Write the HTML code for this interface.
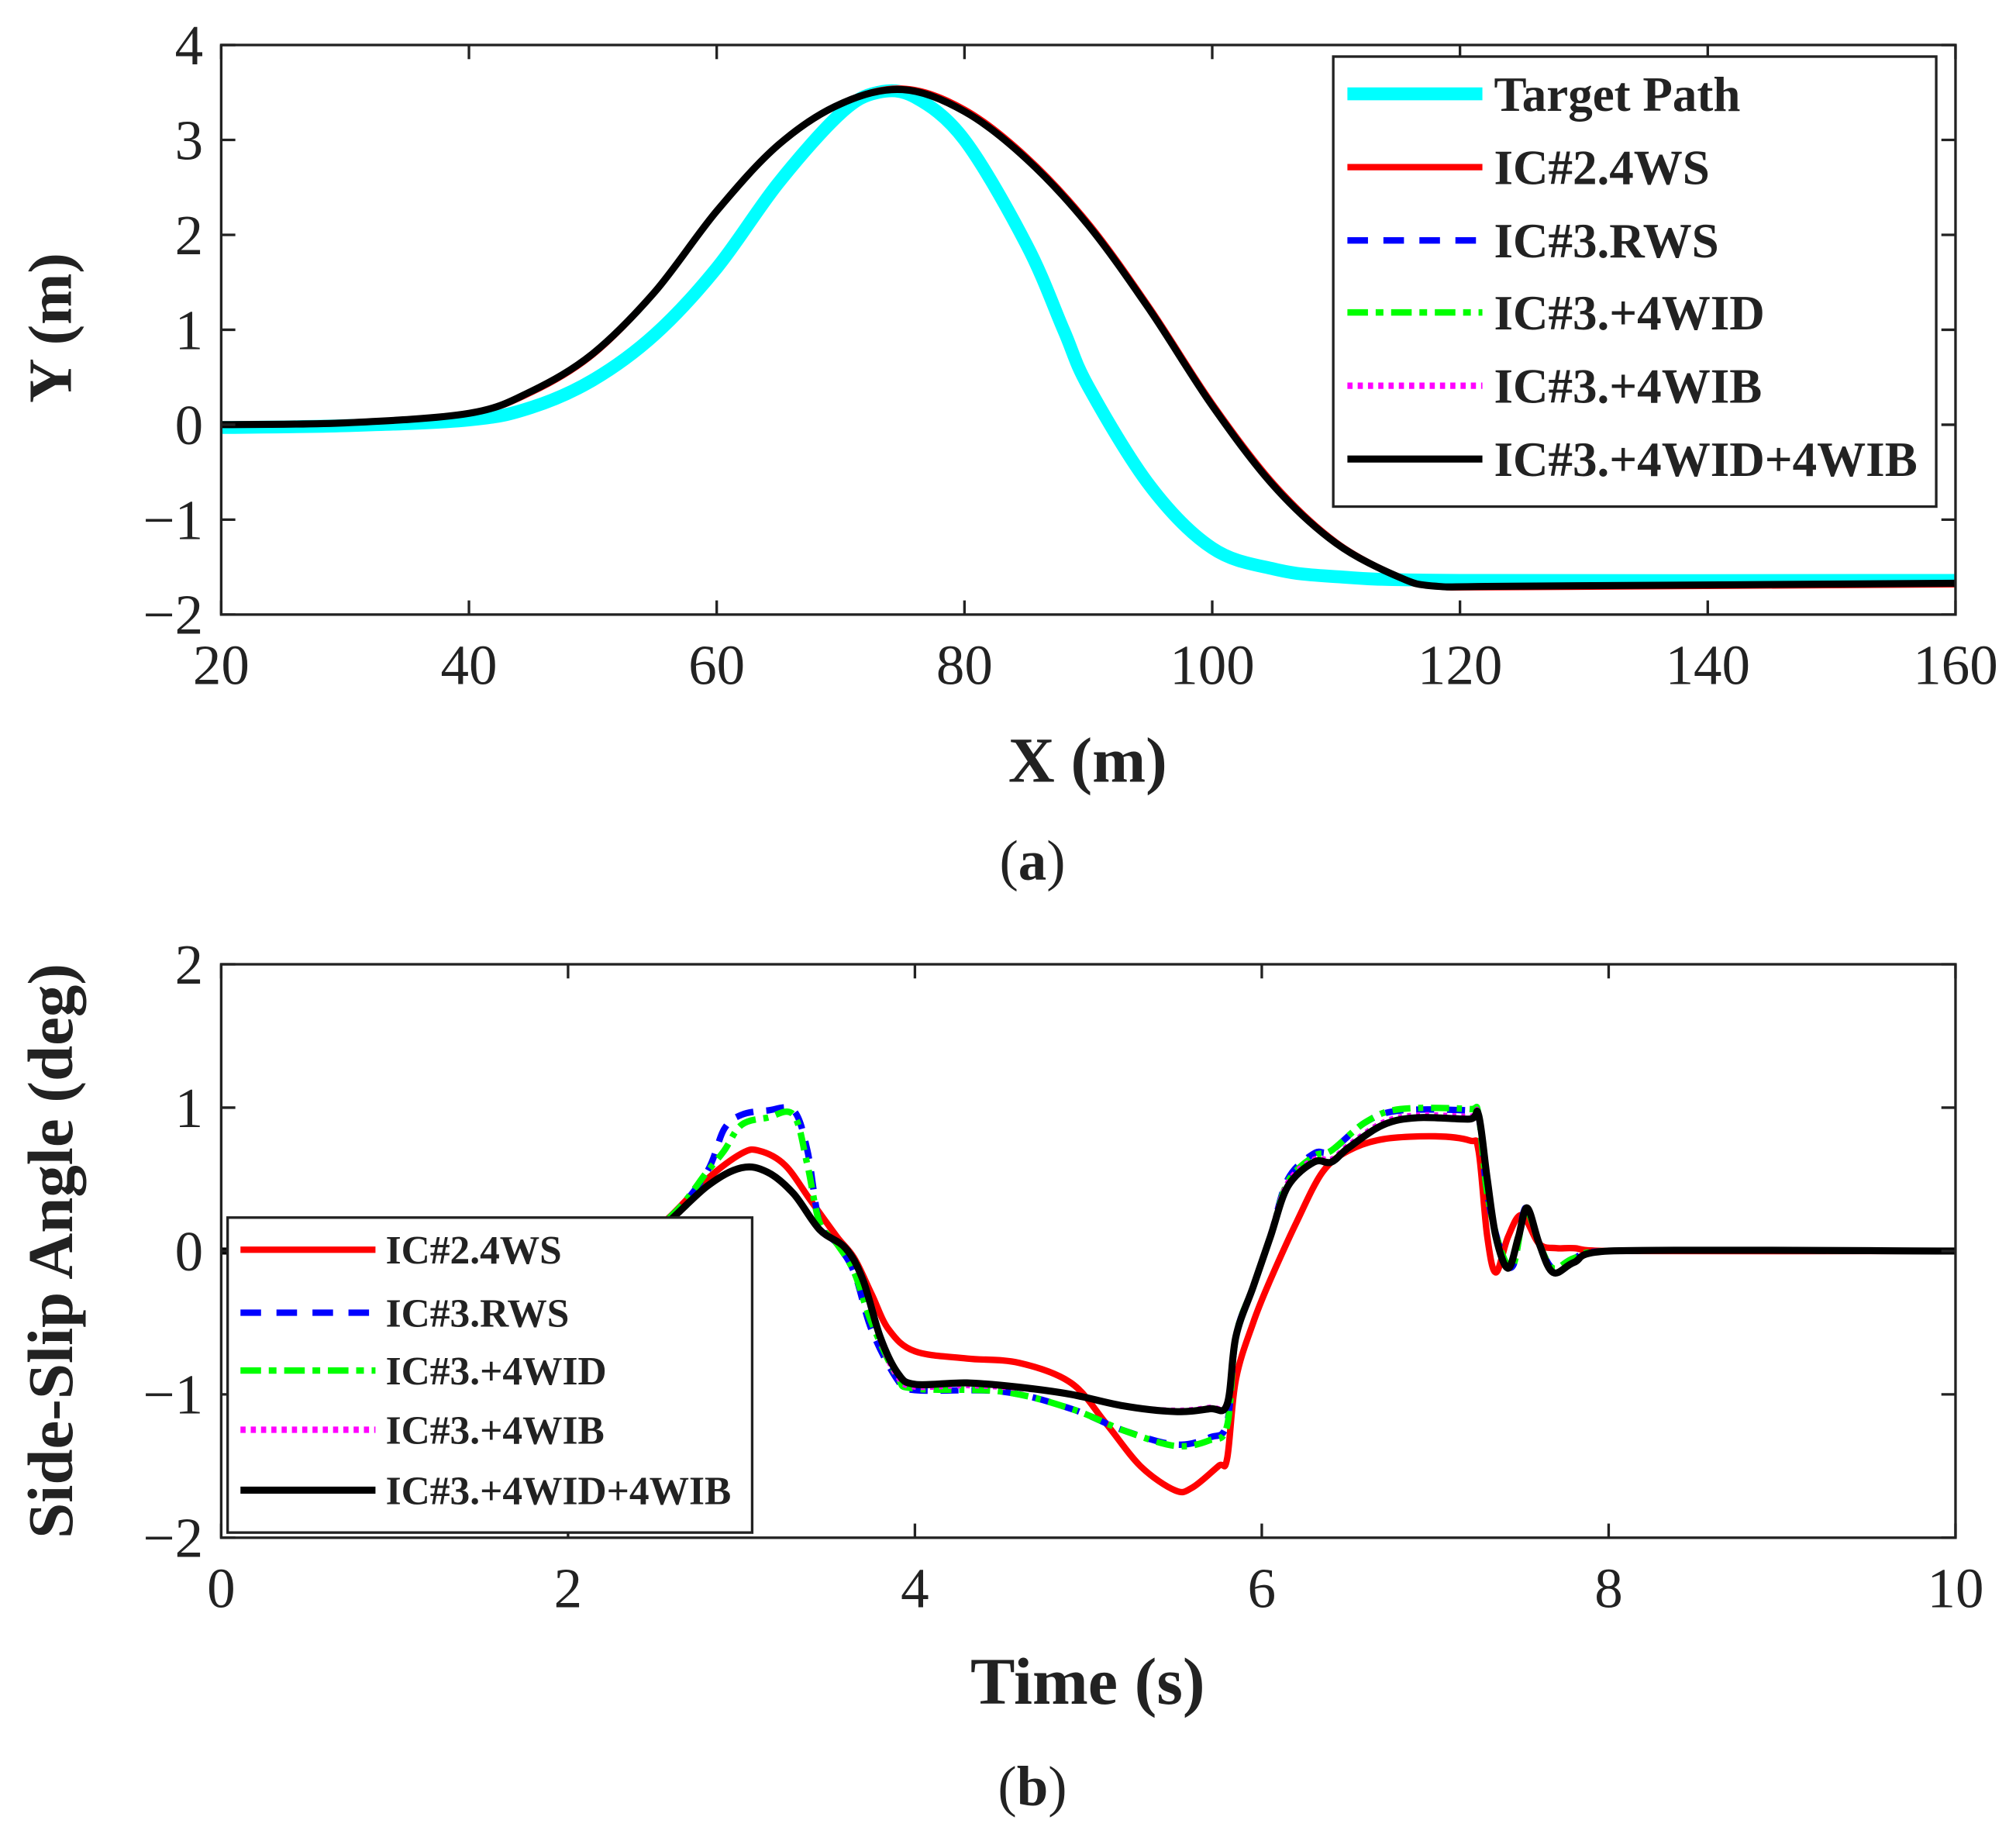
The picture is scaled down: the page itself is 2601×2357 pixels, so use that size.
<!DOCTYPE html>
<html><head><meta charset="utf-8"><style>
html,body{margin:0;padding:0;background:#fff}
svg{display:block}
text{font-family:"Liberation Serif",serif;fill:#222}
</style></head><body>
<svg id="fig" width="2601" height="2357" viewBox="0 0 1568 1421" xmlns="http://www.w3.org/2000/svg">
<g id="top"></g>
<g id="bot"></g>
</svg>
<script>
// ---------- Top chart data ----------
const xTicksA = [20,40,60,80,100,120,140,160];
const yTicksA = [4,3,2,1,0,-1,-2];
const targetX = [20,30,40,45,50,55,60,65,70,73,76,80,85,88,90,95,100,105,110,120,160];
const targetY = [-0.03,-0.01,0.05,0.18,0.47,0.95,1.65,2.55,3.28,3.5,3.45,3.0,1.9,1.0,0.4,-0.65,-1.3,-1.52,-1.6,-1.64,-1.64];
const vehX = [20,30,40,45,50,55,60,65,70,75,80,85,90,95,100,105,110,115,118,125,160];
const vehY = [0,0.02,0.12,0.35,0.75,1.4,2.25,2.95,3.38,3.53,3.3,2.8,2.1,1.2,0.2,-0.65,-1.25,-1.6,-1.7,-1.7,-1.67];
const vehYred = [0,0.02,0.12,0.34,0.74,1.4,2.25,2.95,3.38,3.54,3.32,2.82,2.12,1.22,0.22,-0.63,-1.24,-1.6,-1.7,-1.71,-1.68];

// ---------- Bottom chart data ----------
const xTicksB = [0,2,4,6,8,10];
const yTicksB = [2,1,0,-1,-2];
const tBlack = [0,2.3,2.5,2.8,3.0,3.15,3.3,3.45,3.6,3.7,3.8,3.9,4.0,4.3,4.6,4.9,5.2,5.5,5.7,5.8,5.85,5.95,6.05,6.15,6.3,6.4,6.5,6.7,6.9,7.2,7.25,7.3,7.35,7.42,7.48,7.53,7.6,7.68,7.8,8.0,10];
const bBlack = [0,0,0.12,0.45,0.58,0.55,0.4,0.15,0.02,-0.2,-0.6,-0.85,-0.93,-0.92,-0.95,-1.0,-1.08,-1.12,-1.1,-1.07,-0.6,-0.25,0.1,0.45,0.62,0.62,0.72,0.88,0.93,0.92,0.95,0.5,0.1,-0.12,0.1,0.3,0.05,-0.15,-0.08,0,0];
const bMagenta = [0,0,0.12,0.45,0.58,0.55,0.4,0.15,0.02,-0.2,-0.62,-0.88,-0.95,-0.94,-0.96,-1.0,-1.08,-1.11,-1.09,-1.06,-0.6,-0.25,0.12,0.48,0.64,0.64,0.74,0.9,0.95,0.94,0.96,0.5,0.1,-0.12,0.1,0.3,0.05,-0.15,-0.08,0,0];
const tRed = [0,2.2,2.5,2.8,3.0,3.1,3.25,3.4,3.55,3.65,3.75,3.85,4.0,4.3,4.6,4.9,5.1,5.3,5.5,5.6,5.75,5.8,5.85,5.95,6.05,6.2,6.35,6.5,6.7,7.0,7.2,7.25,7.3,7.35,7.42,7.5,7.6,7.7,7.8,8,10];
const bRed = [0,0,0.15,0.5,0.68,0.7,0.6,0.35,0.1,-0.05,-0.3,-0.55,-0.7,-0.75,-0.78,-0.92,-1.2,-1.5,-1.67,-1.65,-1.5,-1.45,-0.9,-0.5,-0.2,0.2,0.55,0.7,0.78,0.8,0.77,0.7,0.1,-0.15,0.1,0.25,0.05,0.02,0.02,0,0];
const tBlue = [0,2.3,2.6,2.8,2.9,3.0,3.15,3.3,3.38,3.45,3.55,3.65,3.75,3.9,4.0,4.5,4.9,5.2,5.5,5.7,5.8,5.85,5.95,6.05,6.15,6.3,6.4,6.6,6.8,7.2,7.25,7.3,7.38,7.45,7.52,7.6,7.68,7.8,8,10];
const bBlue = [0,0,0.25,0.55,0.85,0.95,0.98,0.98,0.7,0.2,0.05,-0.15,-0.55,-0.9,-0.97,-0.98,-1.1,-1.25,-1.35,-1.3,-1.2,-0.6,-0.25,0.1,0.5,0.68,0.7,0.9,0.98,0.98,0.95,0.4,0,-0.1,0.3,0.05,-0.12,-0.05,0,0];
const bGreen = [0,0,0.25,0.55,0.7,0.88,0.93,0.95,0.6,0.2,0.05,-0.15,-0.5,-0.88,-0.96,-0.98,-1.1,-1.25,-1.36,-1.32,-1.22,-0.6,-0.25,0.1,0.48,0.66,0.7,0.9,0.99,0.99,0.95,0.4,0,-0.1,0.28,0.05,-0.12,-0.05,0,0];

const NS="http://www.w3.org/2000/svg";
function mk(parent, tag, attrs, text){const e=document.createElementNS(NS,tag);for(const k in attrs)e.setAttribute(k,attrs[k]);if(text!==undefined)e.textContent=text;parent.appendChild(e);return e;}

const A={l:172,r:1521,t:35,b:478,x0:20,x1:160,y0:-2,y1:4};
const B={l:172,r:1521,t:750,b:1196,x0:0,x1:10,y0:-2,y1:2};
const sx=(ax,v)=>ax.l+(v-ax.x0)/(ax.x1-ax.x0)*(ax.r-ax.l);
const sy=(ax,v)=>ax.b-(v-ax.y0)/(ax.y1-ax.y0)*(ax.b-ax.t);
function pathD(ax,xs,ys){
  const P=xs.map((x,i)=>[sx(ax,x),sy(ax,ys[i])]);
  let d='M'+P[0][0].toFixed(1)+','+P[0][1].toFixed(1);
  for(let i=0;i<P.length-1;i++){
    const p0=P[Math.max(0,i-1)],p1=P[i],p2=P[i+1],p3=P[Math.min(P.length-1,i+2)];
    // limit tangent by segment length to avoid overshoot
    const k=1/6;
    let c1=[p1[0]+(p2[0]-p0[0])*k,p1[1]+(p2[1]-p0[1])*k];
    let c2=[p2[0]-(p3[0]-p1[0])*k,p2[1]-(p3[1]-p1[1])*k];
    c1[0]=Math.min(Math.max(c1[0],p1[0]),p2[0]);c2[0]=Math.min(Math.max(c2[0],p1[0]),p2[0]);
    d+=' C'+c1[0].toFixed(1)+','+c1[1].toFixed(1)+' '+c2[0].toFixed(1)+','+c2[1].toFixed(1)+' '+p2[0].toFixed(1)+','+p2[1].toFixed(1);
  }
  return d;
}

function axes(g,ax,xt,yt,fs){
  const xs=mk(g,'g',{});
  
  
  xt.forEach(v=>{const x=sx(ax,v);
    mk(xs,'line',{x1:x,x2:x,y1:ax.b,y2:ax.b-11,stroke:'#222','stroke-width':2});
    mk(xs,'line',{x1:x,x2:x,y1:ax.t,y2:ax.t+11,stroke:'#222','stroke-width':2});
    const t=mk(xs,'text',{x:x,y:ax.b+54,'text-anchor':'middle','font-size':fs},String(v));
    
    
  });
  const ys=mk(g,'g',{});
  
  
  yt.forEach(v=>{const y=sy(ax,v);
    mk(ys,'line',{x1:ax.l,x2:ax.l+11,y1:y,y2:y,stroke:'#222','stroke-width':2});
    mk(ys,'line',{x1:ax.r,x2:ax.r-11,y1:y,y2:y,stroke:'#222','stroke-width':2});
    const t=mk(ys,'text',{x:ax.l-14,y:y+15,'text-anchor':'end','font-size':fs},v<0?'\u2212'+Math.abs(v):String(v));
    
    
  });
}
function series(g,ax,xs,ys,color,w,dash,name){
  const p=mk(g,'path',{d:pathD(ax,xs,ys),fill:'none',stroke:color,'stroke-width':w,'stroke-linejoin':'round'});
  if(dash)p.setAttribute('stroke-dasharray',dash);
  
  
}
function legend(g,x,y,w,h,items,rowYs,lx1,lx2,tx,fs){
  const L=mk(g,'g',{});
  
  
  mk(L,'rect',{x:x,y:y,width:w,height:h,fill:'#fff',stroke:'#222','stroke-width':2});
  items.forEach((it,i)=>{
    const e=mk(L,'g',{});
    
    
    const ln=mk(e,'line',{x1:lx1,x2:lx2,y1:rowYs[i],y2:rowYs[i],stroke:it.c,'stroke-width':it.w});
    if(it.d)ln.setAttribute('stroke-dasharray',it.d);
    mk(e,'text',{x:tx,y:rowYs[i]+fs*0.35,'font-size':fs,'font-weight':'bold'},it.n);
  });
}

// ---- top chart ----
const gt=document.getElementById('top');
mk(gt,'rect',{x:A.l,y:A.t,width:A.r-A.l,height:A.b-A.t,fill:'#fff'});
const clipA=mk(gt,'clipPath',{id:'ca'});mk(clipA,'rect',{x:A.l,y:A.t,width:A.r-A.l,height:A.b-A.t});
const pa=mk(gt,'g',{'clip-path':'url(#ca)'});
series(pa,A,targetX,targetY,'#00ffff',10,null,'target-path-line');
series(pa,A,vehX,vehYred,'#ff0000',5,null,'ic2-4ws-line');
series(pa,A,vehX,vehY,'#0000ff',4,'14,10','ic3-rws-line');
series(pa,A,vehX,vehY,'#00ff00',4,'14,6,4,6','ic3-4wid-line');
series(pa,A,vehX,vehY,'#ff00ff',4,'3,4','ic3-4wib-line');
series(pa,A,vehX,vehY,'#000000',5.5,null,'ic3-4wid-4wib-line');
mk(gt,'rect',{x:A.l,y:A.t,width:A.r-A.l,height:A.b-A.t,fill:'none',stroke:'#222','stroke-width':2});
axes(gt,A,xTicksA,yTicksA,44);
legend(gt,1037,44,469,350,[
 {n:'Target Path',c:'#00ffff',w:10},{n:'IC#2.4WS',c:'#ff0000',w:5},{n:'IC#3.RWS',c:'#0000ff',w:5,d:'16,12'},
 {n:'IC#3.+4WID',c:'#00ff00',w:5,d:'16,6,6,6'},{n:'IC#3.+4WIB',c:'#ff00ff',w:5,d:'4,4'},{n:'IC#3.+4WID+4WIB',c:'#000',w:5.5}],
 [73,130,187,243,300,357],1048,1153,1162,38);
let t=mk(gt,'text',{x:846,y:608,'text-anchor':'middle','font-size':50,'font-weight':'bold'},'X (m)');

t=mk(gt,'text',{x:0,y:0,'text-anchor':'middle','font-size':48,'font-weight':'bold',transform:'translate(55,255) rotate(-90)'},'Y (m)');

t=mk(gt,'text',{x:803,y:684,'text-anchor':'middle','font-size':44},'');
t.innerHTML='(<tspan font-weight="bold">a</tspan>)';


// ---- bottom chart ----
const gb=document.getElementById('bot');
const clipB=mk(gb,'clipPath',{id:'cb'});mk(clipB,'rect',{x:B.l,y:B.t,width:B.r-B.l,height:B.b-B.t});
const pb=mk(gb,'g',{'clip-path':'url(#cb)'});
series(pb,B,tRed,bRed,'#ff0000',5,null,'ic2-4ws-line');
series(pb,B,tBlue,bBlue,'#0000ff',5,'14,10','ic3-rws-line');
series(pb,B,tBlue,bGreen,'#00ff00',5,'14,6,4,6','ic3-4wid-line');
series(pb,B,tBlack,bMagenta,'#ff00ff',4,'3,4','ic3-4wib-line');
series(pb,B,tBlack,bBlack,'#000000',5.5,null,'ic3-4wid-4wib-line');
mk(gb,'rect',{x:B.l,y:B.t,width:B.r-B.l,height:B.b-B.t,fill:'none',stroke:'#222','stroke-width':2});
axes(gb,B,xTicksB,yTicksB,44);
legend(gb,177,947,408,245,[
 {n:'IC#2.4WS',c:'#ff0000',w:5},{n:'IC#3.RWS',c:'#0000ff',w:5,d:'16,12'},
 {n:'IC#3.+4WID',c:'#00ff00',w:5,d:'16,6,6,6'},{n:'IC#3.+4WIB',c:'#ff00ff',w:5,d:'4,4'},{n:'IC#3.+4WID+4WIB',c:'#000',w:5.5}],
 [972,1021,1066,1112,1159],187,292,300,31);
t=mk(gb,'text',{x:846,y:1325,'text-anchor':'middle','font-size':52,'font-weight':'bold'},'Time (s)');

t=mk(gb,'text',{x:0,y:0,'text-anchor':'middle','font-size':50,'font-weight':'bold',transform:'translate(56,973) rotate(-90)'},'Side-Slip Angle (deg)');

t=mk(gb,'text',{x:803,y:1404,'text-anchor':'middle','font-size':44},'');
t.innerHTML='(<tspan font-weight="bold">b</tspan>)';

</script>
</body></html>
